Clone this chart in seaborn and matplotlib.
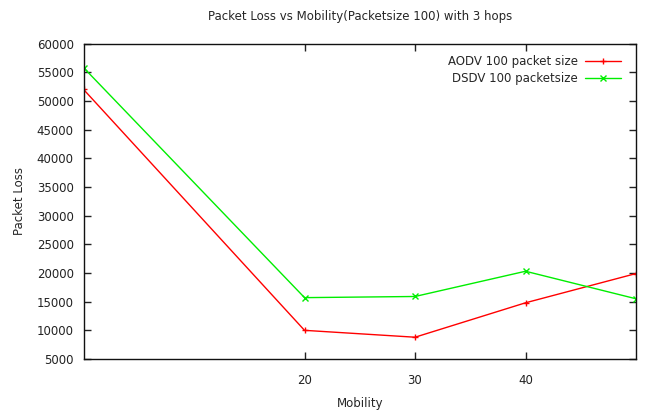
import matplotlib
matplotlib.use("Agg")
import matplotlib.pyplot as plt
import seaborn as sns
import pandas as pd

mobility = [0, 20, 30, 40, 50]
aodv = [52000, 10000, 8800, 14800, 19900]
dsdv = [55800, 15700, 15900, 20300, 15500]
series_names = ["AODV 100 packet size", "DSDV 100 packetsize"]
x_ticks = [20, 30, 40]
y_ticks = [5000, 10000, 15000, 20000, 25000, 30000, 35000, 40000, 45000, 50000, 55000, 60000]

df = pd.DataFrame({
    "Mobility": mobility * 2,
    "Packet Loss": aodv + dsdv,
    "series": [series_names[0]] * len(mobility) + [series_names[1]] * len(mobility),
})

sns.set_theme(style="white")
plt.rcParams["font.family"] = ["DejaVu Sans"]

fig = plt.figure(figsize=(6.49, 4.12), dpi=100)
ax = fig.add_axes([0.1287, 0.1286, 0.8513, 0.7658])

palette = {series_names[0]: "#ff0000", series_names[1]: "#00ee00"}
markers = {series_names[0]: "+", series_names[1]: "x"}
sns.lineplot(data=df, x="Mobility", y="Packet Loss", hue="series", style="series",
             palette=palette, markers=markers, dashes=False, linewidth=1.0,
             markersize=5, markeredgewidth=1.0, ax=ax)
for ln in ax.lines:
    ln.set_markeredgecolor(ln.get_color())

ax.set_xlim(0, 50)
ax.set_ylim(5000, 60000)
ax.set_xticks(x_ticks)
ax.set_yticks(y_ticks)
ax.tick_params(direction="in", length=5, width=1, top=True, right=True,
               bottom=True, left=True, labelsize=8.5, colors="#222222", pad=7)
ax.tick_params(axis="x", pad=11)
for s in ax.spines.values():
    s.set_color("#111111")
    s.set_linewidth(1.0)

ax.set_xlabel("Mobility", fontsize=8.5, labelpad=7)
ax.set_ylabel("Packet Loss", fontsize=8.5, labelpad=8)
ax.set_title("Packet Loss vs Mobility(Packetsize 100) with 3 hops", fontsize=8.5, pad=17)

leg = ax.legend(loc="upper right", frameon=False, markerfirst=False, fontsize=8.5,
                handlelength=3.0, labelspacing=0.35, bbox_to_anchor=(0.985, 0.985),
                borderaxespad=0.2, handletextpad=0.6)
for h in leg.legend_handles:
    h.set_markeredgecolor(h.get_color())

fig.savefig("out.png", dpi=100)
